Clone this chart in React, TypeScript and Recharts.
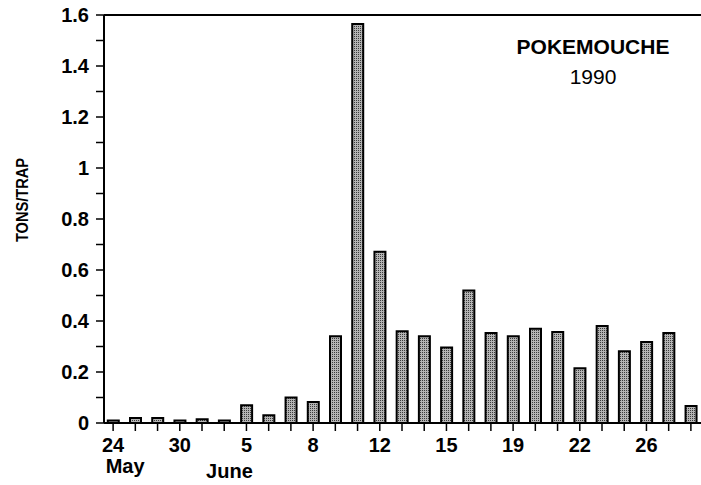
import { BarChart, Bar, XAxis, YAxis, ReferenceLine } from "recharts";

// sampling dates, May 24 to June 28 1990
const days = [
  "May 24", "May 26", "May 28", "May 30", "Jun 1", "Jun 3", "Jun 5", "Jun 6", "Jun 7",
  "Jun 8", "Jun 9", "Jun 11", "Jun 12", "Jun 13", "Jun 14", "Jun 15", "Jun 16", "Jun 18",
  "Jun 19", "Jun 20", "Jun 21", "Jun 22", "Jun 23", "Jun 25", "Jun 26", "Jun 27", "Jun 28",
];

// tons per trap
const tonsPerTrap = [
  0.01, 0.02, 0.02, 0.01, 0.015, 0.01, 0.07, 0.03, 0.1,
  0.082, 0.34, 1.565, 0.672, 0.36, 0.34, 0.296, 0.52, 0.353,
  0.34, 0.37, 0.357, 0.215, 0.38, 0.281, 0.318, 0.353, 0.067,
];

const labeledDays = ["May 24", "May 30", "Jun 5", "Jun 8", "Jun 12", "Jun 15", "Jun 19", "Jun 22", "Jun 26"];
const monthLabels = [
  { at: "May 24", text: "May", dx: 12, dy: 21 },
  { at: "Jun 5", text: "June", dx: -17, dy: 26 },
];

const yTicks = [0, 0.1, 0.2, 0.3, 0.4, 0.5, 0.6, 0.7, 0.8, 0.9, 1, 1.1, 1.2, 1.3, 1.4, 1.5, 1.6];
const yLabels = ["0", "0.2", "0.4", "0.6", "0.8", "1", "1.2", "1.4", "1.6"];

const data = days.map((day, i) => ({ day, value: tonsPerTrap[i] }));

const FONT = "'Liberation Sans', Arial, Helvetica, sans-serif";

const XTick = ({ x, y, payload }: any) => {
  const v = String(payload.value);
  const show = labeledDays.includes(v);
  const month = monthLabels.find((m) => m.at === v);
  return (
    <g transform={`translate(${x},${y})`}>
      {show && (
        <text x={0} y={0} dy="0.71em" textAnchor="middle" fontSize={20} fontWeight={700} fill="#000" fontFamily={FONT}>
          {v.split(" ")[1]}
        </text>
      )}
      {month && (
        <text x={month.dx} y={month.dy} dy="0.71em" textAnchor="middle" fontSize={20} fontWeight={700} fill="#000" fontFamily={FONT}>
          {month.text}
        </text>
      )}
    </g>
  );
};

const yFormat = (v: number) => {
  const s = String(Math.round(v * 10) / 10);
  return yLabels.includes(s) ? s : "";
};

export default function App() {
  return (
    <div
      style={{
        position: "fixed",
        left: 0,
        top: 0,
        width: 701,
        height: 485,
        overflow: "hidden",
        background: "#fff",
        fontFamily: FONT,
      }}
    >
      <BarChart
        width={702}
        height={485}
        data={data}
        margin={{ top: 15, right: 0, left: 0, bottom: 0 }}
        barCategoryGap="26%"
      >
        <defs>
          <pattern id="stipple" width="2" height="2" patternUnits="userSpaceOnUse">
            <rect width="2" height="2" fill="#b4b4b4" />
            <rect width="1" height="1" fill="#3c3c3c" />
          </pattern>
        </defs>
        <XAxis
          dataKey="day"
          interval={0}
          height={62}
          padding={{ left: -2, right: 0 }}
          tickSize={8}
          tickMargin={7}
          axisLine={{ stroke: "#000", strokeWidth: 2 }}
          tickLine={{ stroke: "#000", strokeWidth: 1.5 }}
          tick={<XTick />}
        />
        <YAxis
          width={104}
          domain={[0, 1.6]}
          ticks={yTicks}
          interval={0}
          tickFormatter={yFormat}
          tickSize={8}
          tickMargin={7}
          axisLine={{ stroke: "#000", strokeWidth: 2 }}
          tickLine={{ stroke: "#000", strokeWidth: 1.5 }}
          tick={{ fill: "#000", fontSize: 20, fontWeight: 700, fontFamily: FONT }}
        />
        <ReferenceLine y={1.6} stroke="#000" strokeWidth={2} />
        <Bar
          dataKey="value"
          fill="url(#stipple)"
          stroke="#000"
          strokeWidth={2}
          isAnimationActive={false}
        />
      </BarChart>

      <div
        style={{
          position: "absolute",
          left: 493,
          width: 200,
          top: 36,
          textAlign: "center",
          fontSize: 21,
          lineHeight: "21px",
          fontWeight: 700,
        }}
      >
        POKEMOUCHE
      </div>
      <div
        style={{
          position: "absolute",
          left: 493,
          width: 200,
          top: 66,
          textAlign: "center",
          fontSize: 21,
          lineHeight: "21px",
        }}
      >
        1990
      </div>
      <div
        style={{
          position: "absolute",
          left: 23 - 60,
          top: 200 - 10,
          width: 120,
          height: 20,
          lineHeight: "20px",
          textAlign: "center",
          fontSize: 17,
          fontWeight: 700,
          transform: "rotate(-90deg) scaleX(0.86)",
        }}
      >
        TONS/TRAP
      </div>
    </div>
  );
}
